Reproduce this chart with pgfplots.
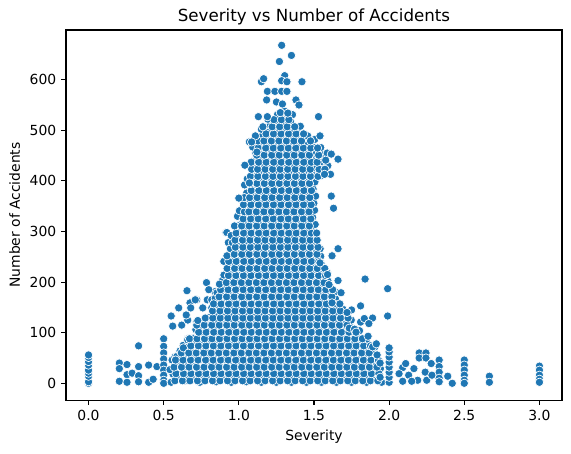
\documentclass[border=0pt]{standalone}
\usepackage{fontspec}
\setmainfont{DejaVu Sans}
\usepackage{pgfplots}
\pgfplotsset{compat=1.18}
\definecolor{c1}{HTML}{1F77B4}
\begin{document}
\begin{tikzpicture}
\begin{axis}[
  scale only axis, width=357pt, height=266.4pt,
  xmin=-0.15, xmax=3.15, ymin=-33.25, ymax=698.25,
  xtick={0,0.5,1,1.5,2,2.5,3}, ytick={0,100,200,300,400,500,600},
  xticklabels={0.0,0.5,1.0,1.5,2.0,2.5,3.0},
  /pgf/number format/assume math mode=true,
  tick align=outside, xtick pos=lower, ytick pos=left,
  major tick length=3.5pt,
  every tick/.style={black, line width=0.8pt},
  axis line style={line width=0.8pt},
  tick label style={font=\fontsize{10}{12}\selectfont},
  title={Severity vs Number of Accidents},
  title style={font=\fontsize{12}{14}\selectfont, at={(0.5,1)}, anchor=base},
  xlabel={Severity},
  xlabel style={font=\fontsize{10}{12}\selectfont},
  ylabel={Number of Accidents},
  ylabel style={font=\fontsize{10}{12}\selectfont},
  clip=false,
]
\addplot[only marks, mark=*, mark size=3pt, mark options={fill=c1, draw=white, line width=0.48pt}] coordinates {
(0,0)(0,3)(0,14)(0,20)(0,26)(0,36)(0,43)(0,51)(0,56)
(0.205,40)(0.205,29)(0.205,4)(0.256,37)(0.256,17)(0.256,2)(0.29,20)
(0.333,74)(0.333,33)(0.333,15)(0.333,3)(0.40,36)(0.40,2)(0.43,8)(0.455,33)
(0.5,88)(0.5,73)(0.5,60)(0.5,48)(0.5,36)(0.5,26)(0.5,16)(0.5,6)(0.5,0)
(0.56,113)(0.62,115)(0.63,75)(0.66,88)(0.55,133)(0.60,149)(0.675,159)(0.66,125)(0.72,121)(0.72,165)(0.785,199)(0.79,165)(0.84,181)(0.89,203)(0.90,241)(0.97,258)(0.655,183)(0.915,298)
(0.76,149)(0.80,185)(0.82,165)(0.82,149)(0.71,165)(0.68,149)(0.65,135)(0.885,201)(0.93,278)(0.92,298)
(0.550,2)(0.562,18)(0.542,27)(0.556,46)(0.575,52)(0.585,38)
(0.612,8)(0.592,25)(0.606,34)(0.587,53)(0.609,64)
(0.642,5)(0.656,13)(0.646,33)(0.663,39)(0.638,57)(0.652,71)(0.660,86)
(0.700,8)(0.712,24)(0.692,34)(0.706,52)(0.687,61)(0.709,80)(0.696,89)(0.714,106)
(0.740,2)(0.753,18)(0.746,27)(0.760,46)(0.737,53)(0.750,71)(0.758,80)(0.742,100)(0.755,114)(0.748,124)
(0.806,8)(0.792,25)(0.811,34)(0.800,53)(0.788,61)(0.809,80)(0.797,89)(0.813,106)(0.790,119)(0.803,130)
(0.850,3)(0.862,16)(0.842,31)(0.856,40)(0.837,58)(0.859,69)(0.846,86)(0.864,97)(0.840,113)(0.853,126)(0.848,137)(0.861,155)(0.843,168)(0.855,179)
(0.904,9)(0.891,21)(0.912,38)(0.898,47)(0.887,65)(0.909,76)(0.895,93)(0.913,103)(0.889,120)(0.902,131)(0.894,148)(0.910,159)(0.897,176)(0.906,187)(0.892,204)(0.901,214)
(0.950,2)(0.962,17)(0.942,28)(0.956,44)(0.937,55)(0.959,72)(0.946,83)(0.964,99)(0.940,110)(0.953,127)(0.948,138)(0.961,154)(0.943,166)(0.955,183)(0.951,194)(0.939,210)(0.958,222)(0.947,239)(0.963,250)(0.944,266)(0.957,278)(0.949,292)
(1.006,8)(0.992,24)(1.011,35)(1.000,51)(0.988,62)(1.009,79)(0.997,90)(1.013,106)(0.990,117)(1.003,134)(0.996,145)(1.012,162)(0.989,173)(1.005,190)(0.998,201)(1.010,218)(0.993,229)(1.007,246)(0.987,257)(1.001,274)(1.014,285)(0.995,302)(1.008,313)(0.991,330)(1.004,341)
(1.050,3)(1.062,14)(1.042,31)(1.056,41)(1.037,58)(1.059,69)(1.046,85)(1.064,97)(1.040,112)(1.053,124)(1.048,141)(1.061,152)(1.043,169)(1.055,180)(1.051,196)(1.039,208)(1.058,225)(1.047,236)(1.063,253)(1.044,264)(1.057,281)(1.049,292)(1.060,308)(1.041,320)(1.054,337)(1.045,348)(1.062,365)(1.052,376)(1.038,392)(1.056,404)
(1.106,8)(1.092,23)(1.111,37)(1.100,50)(1.088,64)(1.109,78)(1.097,92)(1.113,103)(1.090,119)(1.103,131)(1.096,147)(1.112,159)(1.089,175)(1.105,187)(1.098,203)(1.110,215)(1.093,231)(1.107,243)(1.087,259)(1.101,271)(1.114,287)(1.095,299)(1.108,315)(1.091,327)(1.104,343)(1.099,355)(1.111,371)(1.094,383)(1.106,399)(1.090,411)(1.102,427)(1.097,439)(1.112,455)(1.092,467)(1.105,483)
(1.150,2)(1.162,16)(1.142,30)(1.156,43)(1.137,57)(1.159,71)(1.146,85)(1.164,99)(1.140,112)(1.153,126)(1.148,140)(1.161,154)(1.143,168)(1.155,182)(1.151,196)(1.139,210)(1.158,224)(1.147,238)(1.163,252)(1.144,266)(1.157,280)(1.149,294)(1.160,308)(1.141,322)(1.154,336)(1.145,350)(1.162,364)(1.152,378)(1.138,392)(1.156,406)(1.149,420)(1.161,434)(1.143,448)(1.155,462)(1.147,476)(1.158,490)(1.150,502)
(1.206,8)(1.192,22)(1.211,36)(1.200,49)(1.188,63)(1.209,77)(1.197,91)(1.213,104)(1.190,118)(1.203,132)(1.196,146)(1.212,160)(1.189,174)(1.205,188)(1.198,202)(1.210,216)(1.193,230)(1.207,244)(1.187,258)(1.201,272)(1.214,286)(1.195,300)(1.208,314)(1.191,328)(1.204,342)(1.199,356)(1.211,370)(1.194,384)(1.206,398)(1.190,412)(1.202,426)(1.197,440)(1.212,454)(1.192,468)(1.205,482)(1.198,496)(1.209,510)(1.193,522)
(1.250,2)(1.262,15)(1.242,29)(1.256,42)(1.237,56)(1.259,70)(1.246,84)(1.264,98)(1.240,111)(1.253,125)(1.248,139)(1.261,153)(1.243,167)(1.255,181)(1.251,195)(1.239,209)(1.258,223)(1.247,237)(1.263,251)(1.244,265)(1.257,279)(1.249,293)(1.260,307)(1.241,321)(1.254,335)(1.245,349)(1.262,363)(1.252,377)(1.238,391)(1.256,405)(1.249,419)(1.261,433)(1.243,447)(1.255,461)(1.247,475)(1.258,489)(1.250,503)(1.244,517)(1.257,531)
(1.306,8)(1.292,22)(1.311,36)(1.300,49)(1.288,63)(1.309,77)(1.297,91)(1.313,104)(1.290,118)(1.303,132)(1.296,146)(1.312,160)(1.289,174)(1.305,188)(1.298,202)(1.310,216)(1.293,230)(1.307,244)(1.287,258)(1.301,272)(1.314,286)(1.295,300)(1.308,314)(1.291,328)(1.304,342)(1.299,356)(1.311,370)(1.294,384)(1.306,398)(1.290,412)(1.302,426)(1.297,440)(1.312,454)(1.292,468)(1.305,482)(1.298,496)(1.309,510)(1.293,524)(1.303,538)
(1.350,2)(1.362,15)(1.342,29)(1.356,42)(1.337,56)(1.359,70)(1.346,84)(1.364,98)(1.340,111)(1.353,125)(1.348,139)(1.361,153)(1.343,167)(1.355,181)(1.351,195)(1.339,209)(1.358,223)(1.347,237)(1.363,251)(1.344,265)(1.357,279)(1.349,293)(1.360,307)(1.341,321)(1.354,335)(1.345,349)(1.362,363)(1.352,377)(1.338,391)(1.356,405)(1.349,419)(1.361,433)(1.343,447)(1.355,461)(1.347,475)(1.358,489)(1.350,503)(1.344,517)(1.357,531)
(1.406,8)(1.392,22)(1.411,36)(1.400,49)(1.388,63)(1.409,77)(1.397,91)(1.413,104)(1.390,118)(1.403,132)(1.396,146)(1.412,160)(1.389,174)(1.405,188)(1.398,202)(1.410,216)(1.393,230)(1.407,244)(1.387,258)(1.401,272)(1.414,286)(1.395,300)(1.408,314)(1.391,328)(1.404,342)(1.399,356)(1.411,370)(1.394,384)(1.406,398)(1.390,412)(1.402,426)(1.397,440)(1.412,454)(1.392,468)(1.405,482)(1.398,496)(1.409,508)
(1.450,2)(1.462,15)(1.442,29)(1.456,42)(1.437,56)(1.459,70)(1.446,84)(1.464,98)(1.440,111)(1.453,125)(1.448,139)(1.461,153)(1.443,167)(1.455,181)(1.451,195)(1.439,209)(1.458,223)(1.447,237)(1.463,251)(1.444,265)(1.457,279)(1.449,293)(1.460,307)(1.441,321)(1.454,335)(1.445,349)(1.462,363)(1.452,377)(1.438,391)(1.456,405)(1.449,419)(1.461,433)(1.443,447)(1.455,461)(1.447,475)(1.458,489)
(1.506,8)(1.492,22)(1.511,36)(1.500,49)(1.488,63)(1.509,77)(1.497,91)(1.513,104)(1.490,118)(1.503,132)(1.496,146)(1.512,160)(1.489,174)(1.505,188)(1.498,202)(1.510,216)(1.493,230)(1.507,244)(1.487,258)(1.501,272)(1.514,286)(1.495,300)(1.508,314)(1.491,328)(1.504,342)(1.499,356)(1.511,370)(1.494,384)(1.506,398)(1.490,412)(1.502,426)(1.497,440)(1.512,454)(1.492,468)(1.505,482)
(1.550,2)(1.562,15)(1.542,29)(1.556,42)(1.537,56)(1.559,70)(1.546,84)(1.564,98)(1.540,111)(1.553,125)(1.548,139)(1.561,153)(1.543,167)(1.555,181)(1.551,195)(1.539,209)(1.558,223)(1.547,237)(1.545,251)(1.541,266)(1.544,410)(1.553,424)(1.547,438)(1.556,452)(1.545,466)
(1.606,8)(1.592,22)(1.611,36)(1.600,49)(1.588,63)(1.609,77)(1.597,91)(1.613,104)(1.590,118)(1.603,132)(1.596,146)(1.612,160)(1.589,174)(1.598,188)(1.593,202)(1.590,218)(1.592,430)(1.588,455)
(1.650,2)(1.662,15)(1.642,29)(1.656,42)(1.637,56)(1.659,70)(1.646,84)(1.664,98)(1.640,111)(1.653,125)(1.648,139)(1.645,153)(1.643,167)(1.641,181)
(1.706,8)(1.692,22)(1.711,36)(1.700,49)(1.688,63)(1.709,77)(1.697,91)(1.713,104)(1.690,118)(1.698,132)(1.694,146)
(1.750,2)(1.762,15)(1.742,29)(1.756,42)(1.737,56)(1.759,70)(1.746,84)(1.764,98)(1.740,111)(1.748,125)
(1.806,8)(1.792,22)(1.811,36)(1.800,49)(1.788,63)(1.809,77)(1.797,91)(1.803,104)
(1.850,2)(1.862,15)(1.842,29)(1.856,42)(1.837,56)(1.859,70)(1.846,84)
(1.906,8)(1.892,22)(1.911,36)(1.900,49)(1.888,63)(1.905,72)
(1.950,2)(1.935,15)(1.942,29)(1.938,42)
(0.575,5)(0.582,19)(0.569,32)(0.579,46)
(0.625,5)(0.632,19)(0.619,32)(0.629,46)(0.617,60)(0.631,70)
(0.675,5)(0.682,19)(0.669,32)(0.679,46)(0.667,60)(0.681,74)(0.672,88)
(0.725,5)(0.732,19)(0.719,32)(0.729,46)(0.717,60)(0.731,74)(0.722,88)(0.733,101)(0.720,115)(0.727,124)
(0.775,5)(0.782,19)(0.769,32)(0.779,46)(0.767,60)(0.781,74)(0.772,88)(0.783,101)(0.770,115)(0.777,129)
(0.825,5)(0.832,19)(0.819,32)(0.829,46)(0.817,60)(0.831,74)(0.822,88)(0.833,101)(0.820,115)(0.827,129)(0.825,143)(0.832,157)
(0.875,5)(0.882,19)(0.869,32)(0.879,46)(0.867,60)(0.881,74)(0.872,88)(0.883,101)(0.870,115)(0.877,129)(0.875,143)(0.882,157)(0.869,171)(0.879,185)(0.871,196)
(0.925,5)(0.932,19)(0.919,32)(0.929,46)(0.917,60)(0.931,74)(0.922,88)(0.933,101)(0.920,115)(0.927,129)(0.925,143)(0.932,157)(0.919,171)(0.929,185)(0.917,199)(0.931,213)(0.922,227)(0.933,241)(0.921,252)
(0.975,5)(0.982,19)(0.969,32)(0.979,46)(0.967,60)(0.981,74)(0.972,88)(0.983,101)(0.970,115)(0.977,129)(0.975,143)(0.982,157)(0.969,171)(0.979,185)(0.967,199)(0.981,213)(0.972,227)(0.983,241)(0.970,255)(0.977,269)(0.975,283)(0.982,297)(0.971,311)
(1.025,5)(1.032,19)(1.019,32)(1.029,46)(1.017,60)(1.031,74)(1.022,88)(1.033,101)(1.020,115)(1.027,129)(1.025,143)(1.032,157)(1.019,171)(1.029,185)(1.017,199)(1.031,213)(1.022,227)(1.033,241)(1.020,255)(1.027,269)(1.025,283)(1.032,297)(1.019,311)(1.029,325)(1.037,339)(1.031,353)(1.036,367)
(1.075,5)(1.082,19)(1.069,32)(1.079,46)(1.067,60)(1.081,74)(1.072,88)(1.083,101)(1.070,115)(1.077,129)(1.075,143)(1.082,157)(1.069,171)(1.079,185)(1.067,199)(1.081,213)(1.072,227)(1.083,241)(1.070,255)(1.077,269)(1.075,283)(1.082,297)(1.069,311)(1.079,325)(1.067,339)(1.081,353)(1.072,367)(1.083,381)(1.080,395)(1.077,409)(1.085,423)(1.082,437)
(1.125,5)(1.132,19)(1.119,32)(1.129,46)(1.117,60)(1.131,74)(1.122,88)(1.133,101)(1.120,115)(1.127,129)(1.125,143)(1.132,157)(1.119,171)(1.129,185)(1.117,199)(1.131,213)(1.122,227)(1.133,241)(1.120,255)(1.127,269)(1.125,283)(1.132,297)(1.119,311)(1.129,325)(1.117,339)(1.131,353)(1.122,367)(1.133,381)(1.120,395)(1.127,409)(1.125,423)(1.132,437)(1.119,451)(1.129,465)(1.127,479)
(1.175,5)(1.182,19)(1.169,32)(1.179,46)(1.167,60)(1.181,74)(1.172,88)(1.183,101)(1.170,115)(1.177,129)(1.175,143)(1.182,157)(1.169,171)(1.179,185)(1.167,199)(1.181,213)(1.172,227)(1.183,241)(1.170,255)(1.177,269)(1.175,283)(1.182,297)(1.169,311)(1.179,325)(1.167,339)(1.181,353)(1.172,367)(1.183,381)(1.170,395)(1.177,409)(1.175,423)(1.182,437)(1.169,451)(1.179,465)(1.167,479)(1.181,493)
(1.225,5)(1.232,19)(1.219,32)(1.229,46)(1.217,60)(1.231,74)(1.222,88)(1.233,101)(1.220,115)(1.227,129)(1.225,143)(1.232,157)(1.219,171)(1.229,185)(1.217,199)(1.231,213)(1.222,227)(1.233,241)(1.220,255)(1.227,269)(1.225,283)(1.232,297)(1.219,311)(1.229,325)(1.217,339)(1.231,353)(1.222,367)(1.233,381)(1.220,395)(1.227,409)(1.225,423)(1.232,437)(1.219,451)(1.229,465)(1.217,479)(1.231,493)(1.222,507)(1.233,521)
(1.275,5)(1.282,19)(1.269,32)(1.279,46)(1.267,60)(1.281,74)(1.272,88)(1.283,101)(1.270,115)(1.277,129)(1.275,143)(1.282,157)(1.269,171)(1.279,185)(1.267,199)(1.281,213)(1.272,227)(1.283,241)(1.270,255)(1.277,269)(1.275,283)(1.282,297)(1.269,311)(1.279,325)(1.267,339)(1.281,353)(1.272,367)(1.283,381)(1.270,395)(1.277,409)(1.275,423)(1.282,437)(1.269,451)(1.279,465)(1.267,479)(1.281,493)(1.272,507)(1.283,521)(1.276,535)
(1.325,5)(1.332,19)(1.319,32)(1.329,46)(1.317,60)(1.331,74)(1.322,88)(1.333,101)(1.320,115)(1.327,129)(1.325,143)(1.332,157)(1.319,171)(1.329,185)(1.317,199)(1.331,213)(1.322,227)(1.333,241)(1.320,255)(1.327,269)(1.325,283)(1.332,297)(1.319,311)(1.329,325)(1.317,339)(1.331,353)(1.322,367)(1.333,381)(1.320,395)(1.327,409)(1.325,423)(1.332,437)(1.319,451)(1.329,465)(1.317,479)(1.331,493)(1.322,507)(1.333,521)(1.326,534)
(1.375,5)(1.382,19)(1.369,32)(1.379,46)(1.367,60)(1.381,74)(1.372,88)(1.383,101)(1.370,115)(1.377,129)(1.375,143)(1.382,157)(1.369,171)(1.379,185)(1.367,199)(1.381,213)(1.372,227)(1.383,241)(1.370,255)(1.377,269)(1.375,283)(1.382,297)(1.369,311)(1.379,325)(1.367,339)(1.381,353)(1.372,367)(1.383,381)(1.370,395)(1.377,409)(1.375,423)(1.382,437)(1.369,451)(1.379,465)(1.367,479)(1.381,493)(1.372,507)
(1.425,5)(1.432,19)(1.419,32)(1.429,46)(1.417,60)(1.431,74)(1.422,88)(1.433,101)(1.420,115)(1.427,129)(1.425,143)(1.432,157)(1.419,171)(1.429,185)(1.417,199)(1.431,213)(1.422,227)(1.433,241)(1.420,255)(1.427,269)(1.425,283)(1.432,297)(1.419,311)(1.429,325)(1.417,339)(1.431,353)(1.422,367)(1.433,381)(1.420,395)(1.427,409)(1.425,423)(1.432,437)(1.419,451)(1.429,465)(1.417,479)(1.431,493)
(1.475,5)(1.482,19)(1.469,32)(1.479,46)(1.467,60)(1.481,74)(1.472,88)(1.483,101)(1.470,115)(1.477,129)(1.475,143)(1.482,157)(1.469,171)(1.479,185)(1.467,199)(1.481,213)(1.472,227)(1.483,241)(1.470,255)(1.477,269)(1.475,283)(1.482,297)(1.469,311)(1.479,325)(1.467,339)(1.481,353)(1.472,367)(1.483,381)(1.470,395)(1.477,409)(1.475,423)(1.482,437)(1.469,451)(1.479,465)(1.477,479)
(1.525,5)(1.532,19)(1.519,32)(1.529,46)(1.517,60)(1.531,74)(1.522,88)(1.533,101)(1.520,115)(1.527,129)(1.525,143)(1.532,157)(1.519,171)(1.529,185)(1.517,199)(1.531,213)(1.522,227)(1.533,241)(1.520,255)(1.527,269)(1.521,283)(1.518,297)(1.527,409)(1.534,423)(1.521,437)(1.531,451)(1.524,465)
(1.575,5)(1.582,19)(1.569,32)(1.579,46)(1.567,60)(1.581,74)(1.572,88)(1.583,101)(1.570,115)(1.577,129)(1.575,143)(1.582,157)(1.569,171)(1.579,185)(1.567,199)(1.577,213)(1.572,227)(1.573,423)(1.578,441)
(1.625,5)(1.632,19)(1.619,32)(1.629,46)(1.617,60)(1.631,74)(1.622,88)(1.633,101)(1.620,115)(1.627,129)(1.625,143)(1.632,157)(1.619,171)(1.624,185)
(1.675,5)(1.682,19)(1.669,32)(1.679,46)(1.667,60)(1.681,74)(1.672,88)(1.683,101)(1.670,115)(1.677,129)(1.675,143)(1.672,157)
(1.725,5)(1.732,19)(1.719,32)(1.729,46)(1.717,60)(1.731,74)(1.722,88)(1.733,101)(1.720,115)(1.727,129)
(1.775,5)(1.782,19)(1.769,32)(1.779,46)(1.767,60)(1.781,74)(1.772,88)(1.776,101)
(1.825,5)(1.832,19)(1.819,32)(1.829,46)(1.817,60)(1.831,74)(1.822,88)
(1.875,5)(1.882,19)(1.869,32)(1.879,46)(1.867,60)(1.876,74)
(1.925,5)(1.932,19)(1.919,32)(1.929,46)
(1.54,238)(1.59,215)(1.60,195)(1.62,159)(1.735,109)(1.77,107)(1.81,121)(1.78,101)(1.86,93)(1.89,72)(1.92,56)(1.94,40)(1.94,12)
(2.0,2)(2.0,12)(2.0,22)(2.0,32)(2.0,42)(2.0,52)(2.0,62)(2.0,70)(1.99,133)(1.99,187)
(1.84,206)(1.81,153)(1.75,145)(1.72,140)(1.89,129)(1.835,128)(1.865,118)(1.68,179)(1.66,203)(1.62,252)(1.915,78)
(1.0,366)(1.07,396)(1.615,370)(1.63,346)(1.66,266)
(2.09,31)(2.11,39)(2.066,19)(2.13,16)(2.165,29)(2.19,6)(2.24,22)(2.25,6)(2.285,16)(2.09,4)(2.15,4)
(2.2,60)(2.2,50)(2.245,60)(2.245,50)(2.28,39)
(2.333,46)(2.333,33)(2.333,22)(2.333,10)(2.333,3)(2.39,14)(2.42,0)
(2.5,46)(2.5,36)(2.5,26)(2.5,16)(2.5,6)(2.5,0)
(2.667,14)(2.667,2)
(3.0,34)(3.0,26)(3.0,16)(3.0,8)(3.0,2)
(1.285,668)(1.35,648)(1.27,636)(1.305,608)(1.42,596)(1.15,596)(1.165,602)(1.285,598)(1.32,596)
(1.19,577)(1.24,577)(1.285,577)(1.32,577)
(1.185,560)(1.25,556)(1.29,552)(1.38,560)(1.40,550)
(1.13,527)(1.19,527)(1.53,527)
(1.16,507)(1.11,489)(1.54,489)(1.07,477)(1.085,477)(1.12,457)(1.66,443)(1.615,453)(1.04,431)(1.61,413)(1.57,413)
};
\end{axis}
\pgfresetboundingbox
\path[use as bounding box] ([xshift=-47.5pt,yshift=-38.2pt]current axis.south west) rectangle ([xshift=6.5pt,yshift=21.6pt]current axis.north east);
\end{tikzpicture}
\end{document}
